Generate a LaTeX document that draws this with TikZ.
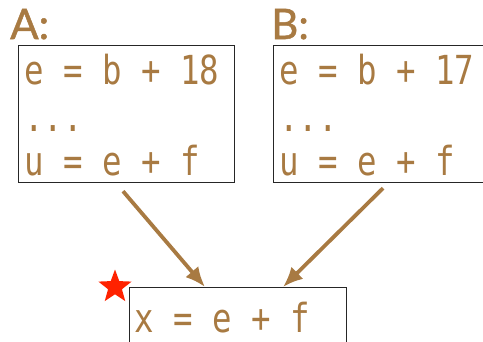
\documentclass[tikz,border=0pt]{standalone}
\usepackage{fontspec}
\usetikzlibrary{arrows.meta,positioning,shapes.geometric}
\newfontfamily\codefont{DejaVu Sans Mono}[FakeStretch=0.81]
\newfontfamily\labelfont{Lato}[FakeBold=1.2]
\definecolor{codebrown}{RGB}{168,122,66}
\definecolor{starred}{RGB}{255,34,0}

\begin{document}
\begin{tikzpicture}[
  x=1pt, y=-1pt,
  blk/.style={draw=black!85, line width=1.2pt, inner sep=0pt, anchor=north west},
  code/.style={font=\codefont\fontsize{40}{44}\selectfont, text=codebrown, anchor=base west, inner sep=0pt},
  lbl/.style={font=\labelfont\fontsize{42}{44}\selectfont, text=codebrown, anchor=base west, inner sep=0pt},
  arr/.style={-{Latex[length=20pt,width=17pt]}, line width=3.8pt, draw=codebrown}
]
\path[use as bounding box, clip] (0,0) rectangle (483,341);
% the two blocks
\node[lbl] (la) at (10,39) {A:};
\node[blk, minimum width=216pt, minimum height=137pt] (a) at (18,45) {};
\node[code] (a1) at (24,84) {e = b + 18};
\node[code] (a2) at (24,131) {...};
\node[code] (a3) at (24,175) {u = e + f};
\node[lbl] (lb) at (271,39) {B:};
\node[blk, minimum width=230pt, minimum height=137pt] (b) at (273,45) {};
\node[code] (b1) at (279,84) {e = b + 17};
\node[code] (b2) at (279,131) {...};
\node[code] (b3) at (279,175) {u = e + f};
% the join
\node[blk, minimum width=217pt, minimum height=80pt] (x) at (129,287) {};
\node[code] (x1) at (134,332) {x = e + f};
\node[star, star points=5, star point ratio=2.4, fill=starred, inner sep=0pt, minimum size=35pt] (st) at (115,287) {};
\draw[arr] ([xshift=105pt, yshift=-8pt]a.south west) -- ([xshift=76pt]x.north west);
\draw[arr] ([xshift=110pt, yshift=-5pt]b.south west) -- ([xshift=154pt]x.north west);
\end{tikzpicture}
\end{document}
